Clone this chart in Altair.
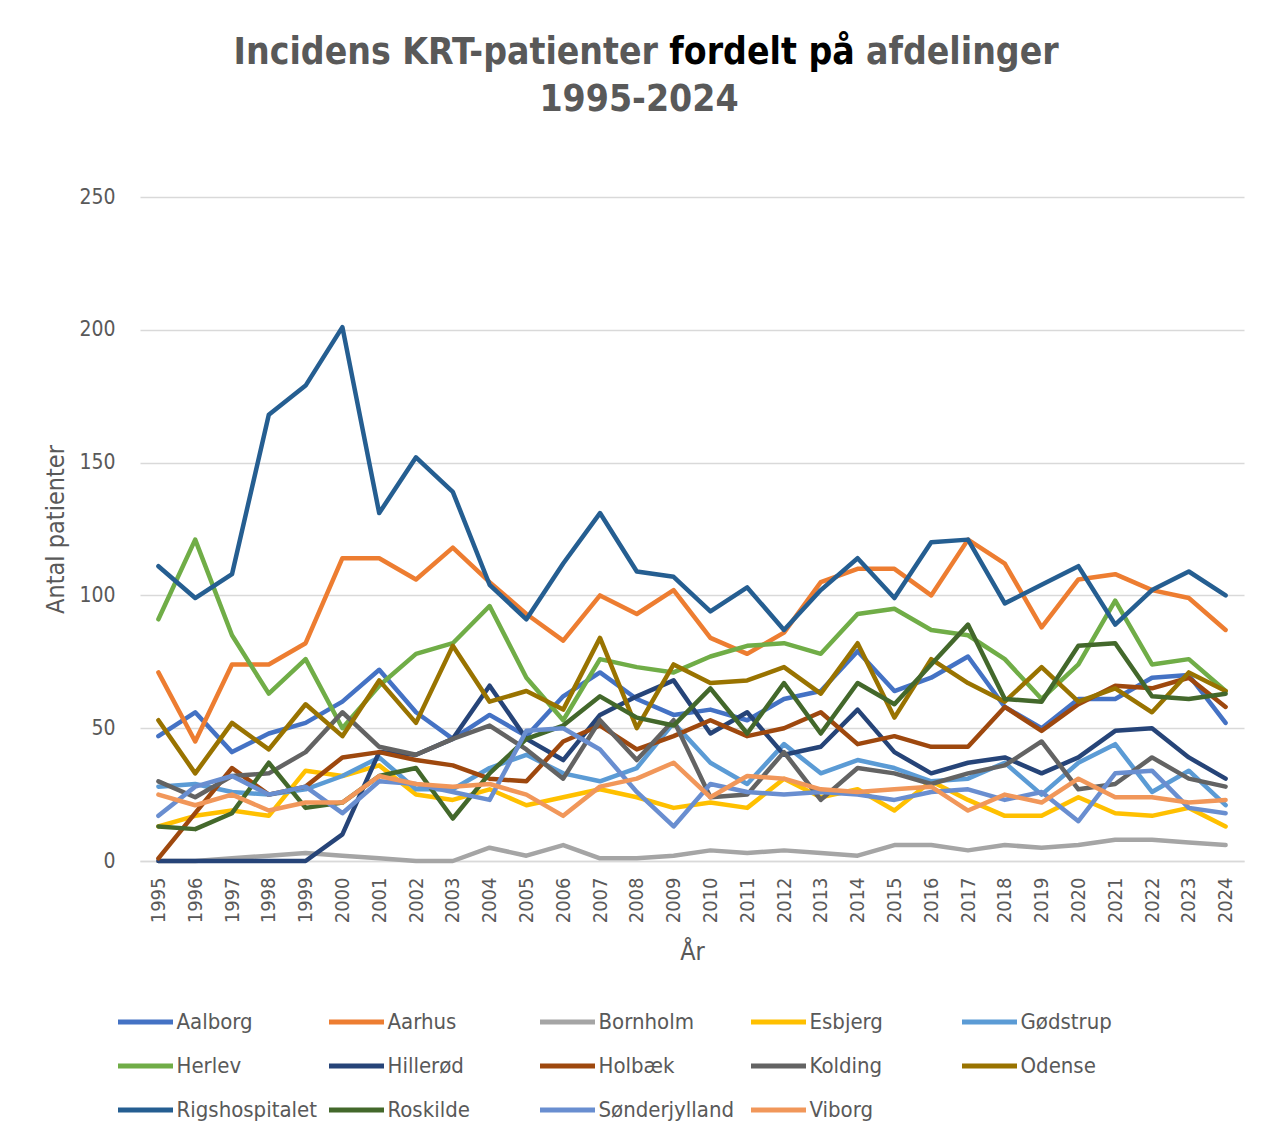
import altair as alt
import pandas as pd

years = list(range(1995, 2025))

names = ["Aalborg", "Aarhus", "Bornholm", "Esbjerg", "Gødstrup",
         "Herlev", "Hillerød", "Holbæk", "Kolding", "Odense",
         "Rigshospitalet", "Roskilde", "Sønderjylland", "Viborg"]

colors = ["#4472C4", "#ED7D31", "#A5A5A5", "#FFC000", "#5B9BD5",
          "#70AD47", "#264478", "#9E480E", "#636363", "#997300",
          "#255E91", "#43682B", "#698ED0", "#F1975A"]

aalborg = [47, 56, 41, 48, 52, 60, 72, 56, 46, 55, 47, 62, 71, 61, 55,
           57, 53, 61, 64, 79, 64, 69, 77, 58, 50, 61, 61, 69, 70, 52]
aarhus = [71, 45, 74, 74, 82, 114, 114, 106, 118, 105, 93, 83, 100, 93, 102,
          84, 78, 86, 105, 110, 110, 100, 121, 112, 88, 106, 108, 102, 99, 87]
bornholm = [0, 0, 1, 2, 3, 2, 1, 0, 0, 5, 2, 6, 1, 1, 2,
            4, 3, 4, 3, 2, 6, 6, 4, 6, 5, 6, 8, 8, 7, 6]
esbjerg = [13, 17, 19, 17, 34, 32, 36, 25, 23, 27, 21, 24, 27, 24, 20,
           22, 20, 31, 24, 27, 19, 30, 23, 17, 17, 24, 18, 17, 20, 13]
godstrup = [28, 29, 26, 25, 27, 32, 39, 27, 27, 35, 40, 33, 30, 35, 52,
            37, 29, 44, 33, 38, 35, 30, 31, 37, 25, 37, 44, 26, 34, 21]
herlev = [91, 121, 85, 63, 76, 50, 66, 78, 82, 96, 69, 53, 76, 73, 71,
          77, 81, 82, 78, 93, 95, 87, 85, 76, 61, 74, 98, 74, 76, 64]
hillerod = [0, 0, 0, 0, 0, 10, 41, 40, 46, 66, 46, 38, 55, 62, 68,
            48, 56, 40, 43, 57, 41, 33, 37, 39, 33, 39, 49, 50, 39, 31]
holbaek = [1, 18, 35, 25, 28, 39, 41, 38, 36, 31, 30, 45, 51, 42, 47,
           53, 47, 50, 56, 44, 47, 43, 43, 58, 49, 59, 66, 65, 69, 58]
kolding = [30, 24, 32, 33, 41, 56, 43, 40, 46, 51, 42, 31, 53, 38, 53,
           24, 25, 41, 23, 35, 33, 29, 33, 36, 45, 27, 29, 39, 31, 28]
odense = [53, 33, 52, 42, 59, 47, 68, 52, 81, 60, 64, 57, 84, 50, 74,
          67, 68, 73, 63, 82, 54, 76, 67, 60, 73, 60, 65, 56, 71, 64]
rigshospitalet = [111, 99, 108, 168, 179, 201, 131, 152, 139, 104, 91, 112, 131, 109, 107,
                  94, 103, 87, 102, 114, 99, 120, 121, 97, 104, 111, 89, 102, 109, 100]
roskilde = [13, 12, 18, 37, 20, 22, 32, 35, 16, 33, 46, 51, 62, 54, 51,
            65, 48, 67, 48, 67, 59, 74, 89, 61, 60, 81, 82, 62, 61, 63]
sonderjylland = [17, 28, 32, 25, 28, 18, 30, 29, 26, 23, 49, 50, 42, 26, 13,
                 29, 26, 25, 26, 25, 23, 26, 27, 23, 26, 15, 33, 34, 20, 18]
viborg = [25, 21, 25, 19, 22, 22, 32, 29, 28, 29, 25, 17, 28, 31, 37,
          24, 32, 31, 27, 26, 27, 28, 19, 25, 22, 31, 24, 24, 22, 23]

series = [aalborg, aarhus, bornholm, esbjerg, godstrup, herlev, hillerod,
          holbaek, kolding, odense, rigshospitalet, roskilde, sonderjylland, viborg]

title_part1 = "Incidens KRT-patienter"
title_part2 = "fordelt på"
title_part3 = "afdelinger"
title_line2 = "1995-2024"

rows = []
for name, vals in zip(names, series):
    for yr, v in zip(years, vals):
        rows.append({"År": yr, "Afdeling": name, "Antal": v})
df = pd.DataFrame(rows)

FONT = "DejaVu Sans Condensed, DejaVu Sans"
GREY = "#595959"

lines = alt.Chart(df).mark_line(
    strokeWidth=4.5, strokeCap="round", strokeJoin="round"
).encode(
    x=alt.X("År:O", scale=alt.Scale(type="point", padding=0.5),
            axis=alt.Axis(title="År", labelAngle=270, labelFontSize=20,
                          labelColor=GREY, labelPadding=16, ticks=False, tickSize=0,
                          domain=True, domainColor="#D9D9D9", domainWidth=1.3,
                          grid=False, titleFontSize=25, titleFontWeight="normal",
                          titleColor=GREY, titlePadding=17)),
    y=alt.Y("Antal:Q", scale=alt.Scale(domain=[0, 250], nice=False),
            axis=alt.Axis(title="Antal patienter", values=[0, 50, 100, 150, 200, 250],
                          labelFontSize=21, labelColor=GREY, labelPadding=25,
                          ticks=False, tickSize=0, domain=False,
                          gridColor="#D9D9D9", gridWidth=1.3,
                          titleFontSize=25, titleFontWeight="normal",
                          titleColor=GREY, titlePadding=10)),
    color=alt.Color("Afdeling:N", sort=names,
                    scale=alt.Scale(domain=names, range=colors),
                    legend=alt.Legend(orient="none", legendX=-24.5, legendY=814,
                                      direction="horizontal",
                                      columns=5, title=None, symbolType="stroke",
                                      symbolSize=3025, symbolStrokeWidth=5,
                                      labelFontSize=22, labelColor=GREY, labelOffset=1,
                                      gridAlign="all", columnPadding=9, rowPadding=22,
                                      clipHeight=22, padding=0, labelLimit=300)),
)

TS = 37
t1 = alt.Chart(pd.DataFrame({"t": [title_part1]})).mark_text(
    fontSize=TS, fontWeight="bold", color=GREY, align="right", baseline="alphabetic"
).encode(text="t:N", x=alt.value(518), y=alt.value(-133))
t2 = alt.Chart(pd.DataFrame({"t": [title_part2]})).mark_text(
    fontSize=TS, fontWeight="bold", color="#000000", align="center", baseline="alphabetic"
).encode(text="t:N", x=alt.value(622), y=alt.value(-133))
t3 = alt.Chart(pd.DataFrame({"t": [title_part3]})).mark_text(
    fontSize=TS, fontWeight="bold", color=GREY, align="left", baseline="alphabetic"
).encode(text="t:N", x=alt.value(726), y=alt.value(-133))
t4 = alt.Chart(pd.DataFrame({"t": [title_line2]})).mark_text(
    fontSize=TS, fontWeight="bold", color=GREY, align="center", baseline="alphabetic"
).encode(text="t:N", x=alt.value(499), y=alt.value(-86))

chart = alt.layer(lines, t1, t2, t3, t4).properties(
    width=1104, height=664,
    autosize=alt.AutoSizeParams(type="none"),
    padding={"left": 132, "top": 189, "right": 10, "bottom": 268},
).configure(font=FONT).configure_view(stroke=None)

chart.save("out.html", embed_options={"renderer": "svg", "actions": False})
